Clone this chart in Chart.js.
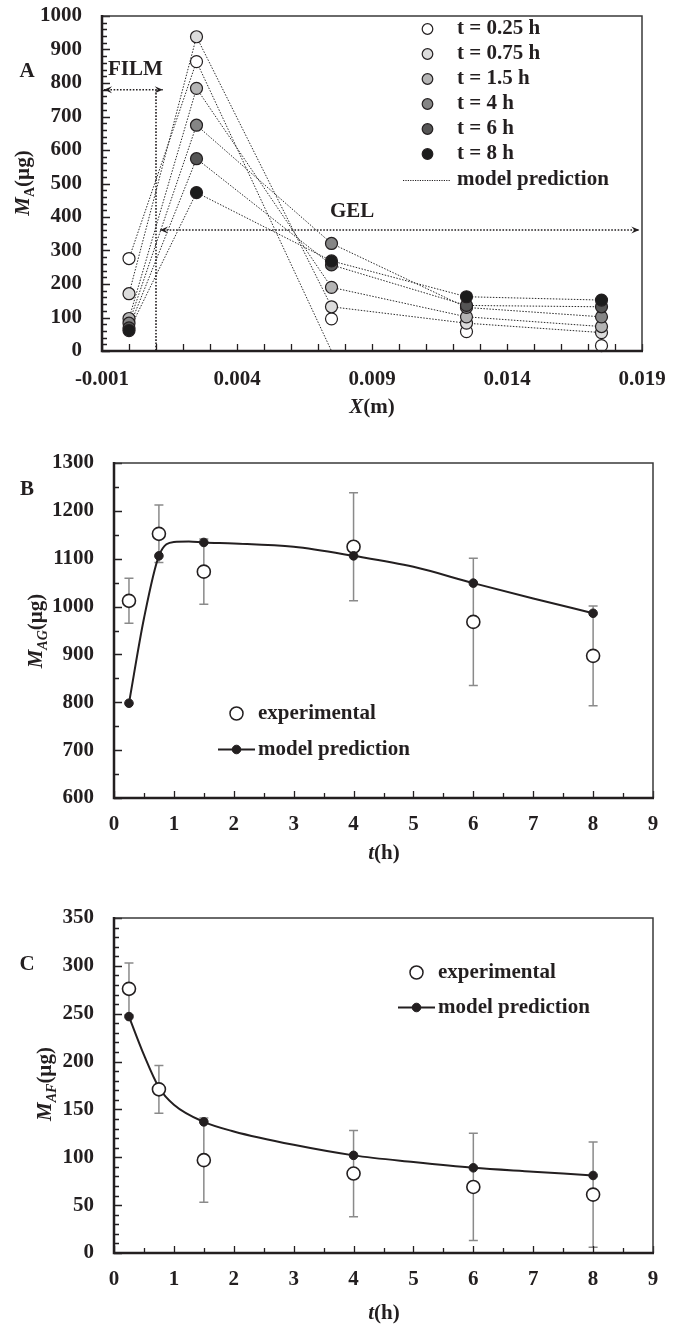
<!DOCTYPE html>
<html>
<head>
<meta charset="utf-8">
<script src="https://cdn.jsdelivr.net/npm/chart.js@4.4.0/dist/chart.umd.min.js"></script>
<style>
  body { margin: 0; background: #fff; width: 680px; height: 1324px; position: relative; overflow: hidden; }
  canvas { position: absolute; left: 0; }
</style>
</head>
<body>
<canvas id="chartA" width="680" height="420" style="top:0"></canvas>
<canvas id="chartB" width="680" height="455" style="top:420px"></canvas>
<canvas id="chartC" width="680" height="464" style="top:860px"></canvas>
<script>
// panel A: drug mass vs depth, one series per time
const depthX = [0, 0.0025, 0.0075, 0.0125, 0.0175];
const timeNames = ['t = 0.25 h', 't = 0.75 h', 't = 1.5 h', 't = 4 h', 't = 6 h', 't = 8 h'];
const massT025 = [276, 864, 96, 58, 16];
const massT075 = [171, 938, 132, 83, 55];
const massT15 = [97, 784, 190, 102, 73];
const massT4 = [83, 674, 321, 130, 102];
const massT6 = [69, 574, 257, 136, 132];
const massT8 = [61, 473, 269, 162, 152];
const modelT025 = [276, 864, 0, 0, 0];
const modelT075 = [171, 938, 132, 83, 55];
const modelT15 = [97, 784, 190, 102, 73];
const modelT4 = [83, 674, 321, 130, 102];
const modelT6 = [69, 574, 257, 136, 132];
const modelT8 = [61, 473, 269, 162, 152];
const depthTicks = [-0.001, 0.004, 0.009, 0.014, 0.019];
const depthTickLabels = ['-0.001', '0.004', '0.009', '0.014', '0.019'];

// panels B and C: gel and film mass vs time
const timeH = [0.25, 0.75, 1.5, 4, 6, 8];
const gelExp = [1012, 1152, 1073, 1125, 968, 897];
const gelErr = [47, 60, 68, 113, 133, 104];
const gelModel = [798, 1106, 1134, 1106, 1049, 986];
const gelCurveT = [0.25, 0.5, 0.75, 1, 1.25, 1.5, 2, 3, 4, 5, 6, 7, 8];
const gelCurve = [798, 975, 1106, 1135, 1136, 1134, 1132, 1125, 1106, 1083, 1049, 1017, 986];
const filmExp = [276, 171, 97, 83, 69, 61];
const filmErr = [27, 25, 44, 45, 56, 55];
const filmModel = [247, 173, 137, 102, 89, 81];
const filmCurveT = [0.25, 0.5, 0.75, 1, 1.5, 2, 3, 4, 5, 6, 7, 8];
const filmCurve = [247, 207, 173, 155, 137, 127, 113, 102, 95, 89, 85, 81];

const serif = '"Liberation Serif", "Times New Roman", serif';
const ink = '#231f20';
Chart.defaults.font.family = serif;
Chart.defaults.font.size = 21;
Chart.defaults.font.weight = 'bold';
Chart.defaults.color = ink;
Chart.defaults.animation = false;

const shades = ['#ffffff', '#dcdcdc', '#b4b4b4', '#858585', '#555555', '#1c1c1c'];

function fnt(size, italic) {
  return (italic ? 'italic ' : '') + 'bold ' + size + 'px ' + serif;
}

function richText(ctx, parts, x, y, rotate) {
  ctx.save();
  ctx.translate(x, y);
  if (rotate) ctx.rotate(-Math.PI / 2);
  let w = 0;
  parts.forEach(p => { ctx.font = fnt(p.size || 21, p.italic); p.w = ctx.measureText(p.t).width; w += p.w; });
  let cx = -w / 2;
  ctx.textAlign = 'left';
  ctx.textBaseline = 'alphabetic';
  ctx.fillStyle = ink;
  parts.forEach(p => {
    ctx.font = fnt(p.size || 21, p.italic);
    ctx.fillText(p.t, cx, 7 + (p.sub ? 5 : 0));
    cx += p.w;
  });
  ctx.restore();
}

function label(ctx, t, x, y) {
  ctx.save();
  ctx.font = fnt(21);
  ctx.fillStyle = ink;
  ctx.textAlign = 'left';
  ctx.textBaseline = 'middle';
  ctx.fillText(t, x, y);
  ctx.restore();
}

function circle(ctx, x, y, r, fill, lw) {
  ctx.beginPath();
  ctx.arc(x, y, r, 0, Math.PI * 2);
  ctx.fillStyle = fill;
  ctx.fill();
  ctx.lineWidth = lw;
  ctx.strokeStyle = ink;
  ctx.stroke();
}

function arrowHead(ctx, x, y, dir) {
  ctx.beginPath();
  ctx.moveTo(x, y);
  ctx.lineTo(x - dir * 8, y - 3.5);
  ctx.lineTo(x - dir * 5, y);
  ctx.lineTo(x - dir * 8, y + 3.5);
  ctx.closePath();
  ctx.fillStyle = ink;
  ctx.fill();
}

// frame + inward ticks
function drawFrame(chart, spec) {
  const { ctx, chartArea: a, scales: { x, y } } = chart;
  ctx.save();
  ctx.strokeStyle = ink;
  ctx.lineWidth = 1.3;
  ctx.beginPath();
  let n = Math.round((spec.yMax - spec.yMin) / spec.yMinor);
  for (let i = 0; i <= n; i++) {
    const v = spec.yMin + i * spec.yMinor;
    const py = Math.round(y.getPixelForValue(v)) + 0.5;
    const len = i % spec.yEvery === 0 ? 8 : 5;
    ctx.moveTo(a.left, py); ctx.lineTo(a.left + len, py);
  }
  n = Math.round((spec.xMax - spec.xMin) / spec.xMinor);
  for (let i = 0; i <= n; i++) {
    const v = spec.xMin + i * spec.xMinor;
    const px = Math.round(x.getPixelForValue(v)) + 0.5;
    const len = i % spec.xEvery === 0 ? 7 : 5;
    ctx.moveTo(px, a.bottom); ctx.lineTo(px, a.bottom - len);
  }
  ctx.stroke();
  ctx.strokeStyle = '#3a3a3a';
  ctx.lineWidth = 1.5;
  ctx.beginPath();
  ctx.moveTo(a.left, a.top); ctx.lineTo(a.right, a.top); ctx.lineTo(a.right, a.bottom);
  ctx.stroke();
  ctx.strokeStyle = ink;
  ctx.lineWidth = 2.5;
  ctx.beginPath();
  ctx.moveTo(a.left, a.top - 1); ctx.lineTo(a.left, a.bottom); ctx.lineTo(a.right + 1, a.bottom);
  ctx.stroke();
  ctx.restore();
}

function drawErrors(chart, xs, ys, errs) {
  const { ctx, scales: { x, y } } = chart;
  ctx.save();
  ctx.strokeStyle = '#8a8a8a';
  ctx.lineWidth = 1.5;
  ctx.beginPath();
  xs.forEach((t, i) => {
    const px = x.getPixelForValue(t);
    const top = y.getPixelForValue(ys[i] + errs[i]);
    const bot = y.getPixelForValue(ys[i] - errs[i]);
    ctx.moveTo(px, top); ctx.lineTo(px, bot);
    ctx.moveTo(px - 4.5, top); ctx.lineTo(px + 4.5, top);
    ctx.moveTo(px - 4.5, bot); ctx.lineTo(px + 4.5, bot);
  });
  ctx.stroke();
  ctx.restore();
}

function timeLegend(ctx, cx, y1, y2) {
  circle(ctx, cx, y1, 6.5, '#fff', 1.5);
  label(ctx, 'experimental', cx + 21.5, y1);
  ctx.save();
  ctx.strokeStyle = ink;
  ctx.lineWidth = 2;
  ctx.beginPath();
  ctx.moveTo(cx - 18.5, y2); ctx.lineTo(cx + 18.5, y2);
  ctx.stroke();
  ctx.restore();
  circle(ctx, cx, y2, 4.3, ink, 1);
  label(ctx, 'model prediction', cx + 21.5, y2);
}

const plainTick = v => String(v);
// keep the chart area exactly where layout padding + axis sizes put it
function fixY(width) {
  return s => { s.width = width; s.paddingTop = 0; s.paddingBottom = 0; };
}
function fixX(height) {
  return s => { s.height = height; s.paddingLeft = 0; s.paddingRight = 0; };
}

// ---------- panel A ----------
const massA = [massT025, massT075, massT15, massT4, massT6, massT8];
const modelA = [modelT025, modelT075, modelT15, modelT4, modelT6, modelT8];
const dsA = [];
modelA.forEach(m => dsA.push({
  type: 'line',
  data: depthX.map((x, i) => ({ x, y: m[i] })),
  borderColor: '#2a2a2a', borderWidth: 1, borderDash: [1.5, 1.5],
  pointRadius: 0, fill: false, order: 10
}));
massA.forEach((m, k) => dsA.push({
  type: 'scatter',
  data: depthX.map((x, i) => ({ x, y: m[i] })),
  backgroundColor: shades[k], borderColor: ink, borderWidth: 1.2,
  pointRadius: 6, pointHoverRadius: 6, clip: false, order: 6 - k
}));

const decoA = {
  id: 'decoA',
  afterDatasetsDraw(chart) {
    const { ctx, scales: { x, y } } = chart;
    drawFrame(chart, { yMin: 0, yMax: 1000, yMinor: 20, yEvery: 5, xMin: -0.001, xMax: 0.019, xMinor: 0.001, xEvery: 1 });
    // film / gel zones
    ctx.save();
    ctx.strokeStyle = ink;
    ctx.lineWidth = 1.6;
    ctx.setLineDash([1.6, 1.6]);
    const fy = y.getPixelForValue(780);
    const fx = x.getPixelForValue(0.001);
    const gy = y.getPixelForValue(361);
    ctx.beginPath();
    ctx.moveTo(x.getPixelForValue(-0.001) + 2, fy); ctx.lineTo(x.getPixelForValue(0.00125), fy);
    ctx.moveTo(fx, fy); ctx.lineTo(fx, y.getPixelForValue(0));
    ctx.moveTo(x.getPixelForValue(0.00115), gy); ctx.lineTo(x.getPixelForValue(0.0189), gy);
    ctx.stroke();
    ctx.setLineDash([]);
    arrowHead(ctx, x.getPixelForValue(-0.001) + 2, fy, -1);
    arrowHead(ctx, x.getPixelForValue(0.00125), fy, 1);
    arrowHead(ctx, x.getPixelForValue(0.00115), gy, -1);
    arrowHead(ctx, x.getPixelForValue(0.0189), gy, 1);
    ctx.restore();
    label(ctx, 'FILM', 108, 70);
    label(ctx, 'GEL', 330, 212);
    // legend
    timeNames.forEach((t, k) => {
      const ly = 29 + k * 25;
      circle(ctx, 427.5, ly, 5.3, shades[k], 1.2);
      label(ctx, t, 457, ly);
    });
    ctx.save();
    ctx.strokeStyle = ink;
    ctx.lineWidth = 1;
    ctx.setLineDash([1.2, 1.2]);
    ctx.beginPath();
    ctx.moveTo(403, 180.5); ctx.lineTo(450, 180.5);
    ctx.stroke();
    ctx.restore();
    label(ctx, 'model prediction', 457, 180);
    // titles
    richText(ctx, [{ t: 'A' }], 27, 70);
    richText(ctx, [{ t: 'M', italic: true }, { t: 'A', size: 14, sub: true }, { t: '(µg)' }], 22, 183, true);
    richText(ctx, [{ t: 'X', italic: true }, { t: '(m)' }], 372, 406);
  }
};

new Chart(document.getElementById('chartA'), {
  type: 'scatter',
  data: { datasets: dsA },
  options: {
    responsive: false,
    layout: { padding: { top: 16, right: 38, left: 0, bottom: 0 } },
    plugins: { legend: { display: false }, tooltip: { enabled: false } },
    scales: {
      x: {
        type: 'linear', min: -0.001, max: 0.019,
        afterBuildTicks: s => { s.ticks = depthTicks.map(v => ({ value: v })); },
        afterFit: fixX(420 - 351),
        ticks: { callback: (v, i) => depthTickLabels[i], padding: 16, maxRotation: 0, autoSkip: false },
        grid: { display: false, drawTicks: false },
        border: { display: false }
      },
      y: {
        min: 0, max: 1000,
        afterFit: fixY(102),
        ticks: { stepSize: 100, padding: 20, callback: plainTick },
        grid: { display: false, drawTicks: false },
        border: { display: false }
      }
    }
  },
  plugins: [decoA]
});

// ---------- panels B and C ----------
function timeChart(id, cfg) {
  const deco = {
    id: 'deco' + id,
    beforeDatasetsDraw(chart) {
      drawErrors(chart, timeH, cfg.exp, cfg.err);
    },
    afterDatasetsDraw(chart) {
      const { ctx } = chart;
      drawFrame(chart, cfg.frame);
      timeLegend(ctx, cfg.legX, cfg.legY1, cfg.legY2);
      richText(ctx, [{ t: cfg.panel }], 27, cfg.panelY);
      richText(ctx, [{ t: 'M', italic: true }, { t: cfg.sub, size: 14, sub: true, italic: true }, { t: '(µg)' }], cfg.titleX, cfg.titleY, true);
      richText(ctx, [{ t: 't', italic: true }, { t: '(h)' }], 384, cfg.xTitleY);
    }
  };
  new Chart(document.getElementById(id), {
    type: 'scatter',
    data: {
      datasets: [
        {
          type: 'line',
          data: cfg.curveT.map((t, i) => ({ x: t, y: cfg.curve[i] })),
          borderColor: ink, borderWidth: 2, pointRadius: 0,
          cubicInterpolationMode: 'monotone', fill: false, order: 5
        },
        {
          data: timeH.map((t, i) => ({ x: t, y: cfg.model[i] })),
          backgroundColor: ink, borderColor: ink, borderWidth: 1, pointRadius: 4.3,
          clip: false, order: cfg.modelOnTop ? 1 : 3
        },
        {
          data: timeH.map((t, i) => ({ x: t, y: cfg.exp[i] })),
          backgroundColor: '#fff', borderColor: ink, borderWidth: 1.6, pointRadius: 6.5,
          clip: false, order: 2
        }
      ]
    },
    options: {
      responsive: false,
      layout: { padding: { top: cfg.top, right: 27, left: 0, bottom: 0 } },
      plugins: { legend: { display: false }, tooltip: { enabled: false } },
      scales: {
        x: {
          type: 'linear', min: 0, max: 9,
          afterFit: fixX(cfg.xh),
          ticks: { stepSize: 1, padding: 14, maxRotation: 0, callback: plainTick },
          grid: { display: false, drawTicks: false },
          border: { display: false }
        },
        y: {
          min: cfg.frame.yMin, max: cfg.frame.yMax,
          afterFit: fixY(114),
          ticks: { stepSize: cfg.yStep, padding: 20, callback: plainTick },
          grid: { display: false, drawTicks: false },
          border: { display: false }
        }
      }
    },
    plugins: [deco]
  });
}

timeChart('chartB', {
  exp: gelExp, err: gelErr, model: gelModel, curveT: gelCurveT, curve: gelCurve,
  frame: { yMin: 600, yMax: 1300, yMinor: 50, yEvery: 2, xMin: 0, xMax: 9, xMinor: 0.5, xEvery: 2 },
  yStep: 100, top: 43, xh: 455 - 378, modelOnTop: true,
  legX: 236.5, legY1: 293.5, legY2: 329.5,
  panel: 'B', panelY: 68, sub: 'AG', titleX: 35, titleY: 211, xTitleY: 432
});

timeChart('chartC', {
  exp: filmExp, err: filmErr, model: filmModel, curveT: filmCurveT, curve: filmCurve,
  frame: { yMin: 0, yMax: 350, yMinor: 10, yEvery: 5, xMin: 0, xMax: 9, xMinor: 0.5, xEvery: 2 },
  yStep: 50, top: 58, xh: 71, modelOnTop: false,
  legX: 416.5, legY1: 112.5, legY2: 147.5,
  panel: 'C', panelY: 103, sub: 'AF', titleX: 44, titleY: 224, xTitleY: 452
});
</script>
</body>
</html>
